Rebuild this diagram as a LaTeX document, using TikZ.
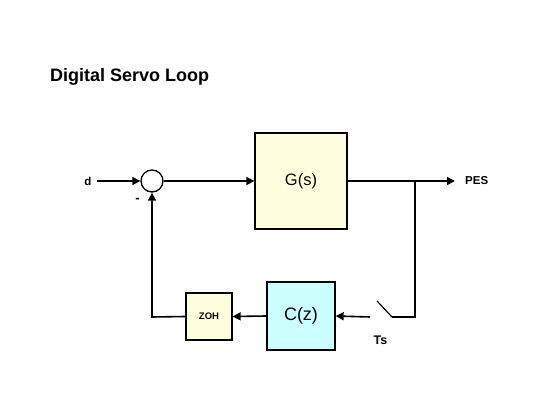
\documentclass[tikz,border=0pt]{standalone}
\usepackage{fontspec}
\setmainfont{Liberation Sans}
\usetikzlibrary{arrows.meta}
\begin{document}
\begin{tikzpicture}[x=1pt,y=-1pt,
  wire/.style={line width=1.6pt},
  arr/.style={wire,-{Triangle[length=8pt,width=8pt]}},
  blk/.style={draw,line width=1.3pt,inner sep=0pt},
  lbl/.style={font=\bfseries\fontsize{11.5}{13}\selectfont,inner sep=0pt}]
\useasboundingbox[fill=white] (0,0) rectangle (560,420);
\node[anchor=west,inner sep=0pt,font=\bfseries\fontsize{18}{21}\selectfont] (title) at (50,77) {Digital Servo Loop};
\node[draw,circle,line width=1.3pt,minimum size=22pt,inner sep=0pt] (sum) at (152,181) {};
\node[blk,fill={rgb,255:red,255;green,255;blue,224},minimum width=92pt,minimum height=96pt,font=\fontsize{16.5}{19}\selectfont] (G) at (301,181) {G(s)};
\node[blk,fill={rgb,255:red,204;green,255;blue,255},minimum width=68pt,minimum height=68pt,font=\fontsize{18}{21}\selectfont] (C) at (301,316) {C(z)};
\node[blk,fill={rgb,255:red,255;green,255;blue,224},minimum width=46pt,minimum height=47pt,font=\bfseries\fontsize{9.5}{11}\selectfont] (Z) at (209,316.5) {ZOH};
\node[lbl] (d) at (88,181) {d};
\node[lbl,anchor=west] (pes) at (465,181) {PES};
\node[lbl,font=\bfseries\fontsize{12.5}{14}\selectfont] (ts) at (380.5,340) {Ts};
\node[lbl,font=\bfseries\fontsize{13}{14}\selectfont] (minus) at (137.5,200) {-};
\coordinate (din) at (97,181);
\coordinate (pout) at (455,181);
\coordinate (br) at (415,181);
\coordinate (brb) at (415,317);
\coordinate (sw1) at (392,317);
\coordinate (sw2) at (377,301);
\coordinate (swin) at (370,317);
\coordinate (fb) at (152,317);
\draw[arr] (din) -- (sum.west);
\draw[arr] (sum.east) -- (G.west);
\draw[arr] (G.east) -- (pout);
\draw[wire] (br) -- (brb) -- (sw1);
\draw[line width=1.2pt] (sw1) -- (sw2);
\draw[arr] (swin) -- (C.east);
\draw[arr] (C.west) -- (Z.east);
\draw[arr] (Z.west) -- (fb) -- (sum.south);
\end{tikzpicture}
\end{document}
